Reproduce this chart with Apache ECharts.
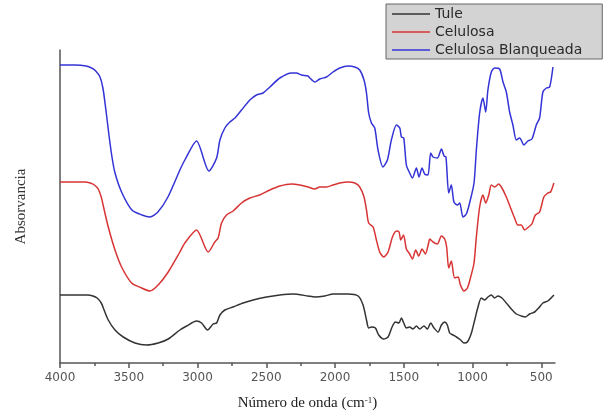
<!DOCTYPE html>
<html>
<head>
<meta charset="utf-8">
<script src="https://cdn.jsdelivr.net/npm/echarts@6/dist/echarts.min.js"></script>
<style>
  html, body { margin: 0; padding: 0; background: #fff; }
  #chart { width: 605px; height: 412px; }
</style>
</head>
<body>
<div id="chart"></div>
<script>
// FTIR spectra: wavenumber (cm-1) and relative absorbance (stacked, arbitrary units)
const tuleWn = [4000, 3800, 3760, 3730, 3700, 3685, 3649, 3600, 3540, 3455, 3370, 3286, 3213, 3128, 3079, 3007, 2970, 2927, 2886, 2861, 2837, 2801, 2741, 2668, 2595, 2498, 2401, 2305, 2196, 2147, 2074, 2014, 1905, 1832, 1796, 1771, 1755, 1735, 1706, 1682, 1646, 1614, 1585, 1561, 1536, 1517, 1500, 1481, 1457, 1433, 1408, 1384, 1353, 1328, 1304, 1280, 1251, 1226, 1202, 1183, 1166, 1142, 1117, 1086, 1062, 1037, 1008, 984, 960, 936, 911, 888, 863, 839, 815, 786, 754, 718, 681, 645, 616, 585, 548, 519, 488, 452, 408];
const tuleAbs = [0.68, 0.68, 0.67, 0.65, 0.60, 0.55, 0.43, 0.33, 0.26, 0.20, 0.18, 0.20, 0.24, 0.33, 0.37, 0.42, 0.40, 0.33, 0.39, 0.40, 0.48, 0.53, 0.56, 0.60, 0.63, 0.66, 0.68, 0.69, 0.67, 0.66, 0.67, 0.69, 0.69, 0.67, 0.58, 0.43, 0.35, 0.36, 0.35, 0.28, 0.24, 0.26, 0.36, 0.41, 0.40, 0.45, 0.40, 0.35, 0.36, 0.34, 0.37, 0.34, 0.37, 0.34, 0.40, 0.35, 0.31, 0.38, 0.41, 0.38, 0.30, 0.28, 0.26, 0.23, 0.20, 0.21, 0.30, 0.43, 0.56, 0.65, 0.63, 0.66, 0.68, 0.65, 0.67, 0.65, 0.60, 0.54, 0.49, 0.47, 0.46, 0.49, 0.51, 0.55, 0.60, 0.62, 0.68];

const celWn = [4000, 3820, 3780, 3750, 3722, 3700, 3685, 3649, 3600, 3552, 3479, 3406, 3346, 3286, 3213, 3128, 3092, 3007, 2922, 2874, 2850, 2825, 2789, 2741, 2680, 2619, 2547, 2474, 2401, 2316, 2256, 2196, 2147, 2111, 2062, 2014, 1965, 1905, 1856, 1820, 1789, 1771, 1755, 1723, 1699, 1675, 1646, 1614, 1582, 1553, 1534, 1522, 1502, 1481, 1457, 1437, 1413, 1391, 1367, 1343, 1319, 1311, 1287, 1255, 1226, 1202, 1188, 1173, 1154, 1130, 1105, 1088, 1062, 1037, 1013, 989, 972, 948, 924, 904, 882, 863, 839, 810, 786, 754, 723, 694, 670, 645, 621, 592, 568, 543, 512, 481, 452, 432, 408];
const celAbs = [1.81, 1.81, 1.80, 1.78, 1.74, 1.66, 1.57, 1.36, 1.13, 0.96, 0.80, 0.75, 0.72, 0.78, 0.91, 1.11, 1.20, 1.33, 1.11, 1.21, 1.25, 1.40, 1.48, 1.52, 1.60, 1.65, 1.68, 1.73, 1.77, 1.79, 1.78, 1.76, 1.74, 1.76, 1.76, 1.78, 1.80, 1.81, 1.80, 1.76, 1.66, 1.53, 1.40, 1.36, 1.23, 1.11, 1.06, 1.11, 1.26, 1.32, 1.31, 1.23, 1.28, 1.14, 1.09, 1.04, 1.13, 1.07, 1.14, 1.09, 1.20, 1.24, 1.21, 1.19, 1.27, 1.24, 1.16, 0.95, 1.02, 0.85, 0.86, 0.78, 0.72, 0.75, 0.86, 1.00, 1.26, 1.56, 1.68, 1.60, 1.68, 1.78, 1.76, 1.79, 1.75, 1.66, 1.55, 1.45, 1.38, 1.38, 1.33, 1.36, 1.39, 1.48, 1.51, 1.66, 1.70, 1.71, 1.80];

const blaWn = [4000, 3891, 3810, 3770, 3740, 3709, 3688, 3666, 3644, 3622, 3600, 3549, 3477, 3404, 3346, 3288, 3215, 3128, 3092, 3007, 2917, 2861, 2837, 2801, 2765, 2728, 2680, 2619, 2571, 2523, 2474, 2401, 2316, 2280, 2244, 2196, 2183, 2147, 2111, 2062, 2014, 1965, 1905, 1856, 1820, 1789, 1771, 1755, 1735, 1711, 1687, 1651, 1619, 1590, 1553, 1529, 1517, 1500, 1481, 1457, 1437, 1408, 1389, 1367, 1348, 1324, 1304, 1287, 1255, 1226, 1207, 1193, 1173, 1154, 1135, 1110, 1093, 1069, 1045, 1021, 989, 972, 948, 924, 904, 888, 863, 839, 803, 778, 754, 730, 706, 681, 657, 626, 597, 568, 536, 512, 488, 463, 439, 415];
const blaAbs = [2.98, 2.98, 2.97, 2.95, 2.92, 2.86, 2.75, 2.53, 2.28, 2.06, 1.90, 1.70, 1.53, 1.48, 1.46, 1.51, 1.66, 1.93, 2.03, 2.22, 1.92, 2.05, 2.23, 2.35, 2.41, 2.45, 2.53, 2.63, 2.68, 2.70, 2.76, 2.85, 2.90, 2.90, 2.88, 2.87, 2.85, 2.81, 2.84, 2.86, 2.91, 2.95, 2.97, 2.96, 2.93, 2.83, 2.70, 2.50, 2.40, 2.35, 2.13, 1.96, 2.03, 2.23, 2.38, 2.35, 2.26, 2.25, 1.98, 1.90, 1.85, 1.95, 1.86, 1.95, 1.89, 1.88, 2.10, 2.06, 2.05, 2.14, 2.07, 2.06, 1.70, 1.78, 1.61, 1.58, 1.60, 1.46, 1.49, 1.60, 1.80, 2.13, 2.50, 2.65, 2.51, 2.73, 2.91, 2.95, 2.94, 2.81, 2.71, 2.51, 2.38, 2.23, 2.25, 2.18, 2.22, 2.24, 2.38, 2.45, 2.71, 2.75, 2.76, 2.96];

const seriesNames = ['Tule', 'Celulosa', 'Celulosa Blanqueada'];
const seriesColors = ['#333333', '#d83434', '#3434d6'];

// Axis tick positions
const majorTicks = [4000, 3500, 3000, 2500, 2000, 1500, 1000, 500];
const minorTicks = [3750, 3250, 2750, 2250, 1750, 1250, 750];

const pair = (xs, ys) => xs.map((x, i) => [x, ys[i]]);
const spectra = [pair(tuleWn, tuleAbs), pair(celWn, celAbs), pair(blaWn, blaAbs)];

const axisGray = '#555555';
const chart = echarts.init(document.getElementById('chart'), null, { renderer: 'canvas' });

chart.setOption({
  backgroundColor: '#ffffff',
  animation: false,
  grid: { left: 60, right: 50, top: 50, bottom: 49, containLabel: false, outerBoundsMode: 'none' },
  legend: {
    orient: 'vertical',
    left: 386,
    top: 4,
    align: 'left',
    icon: 'rect',
    itemWidth: 38,
    itemHeight: 1.6,
    itemGap: 2,
    padding: [2, 20, 1, 6],
    backgroundColor: '#d3d3d3',
    borderColor: '#666666',
    borderWidth: 1,
    borderRadius: 0,
    textStyle: { fontFamily: 'DejaVu Sans', fontSize: 14, color: '#2a2a2a', lineHeight: 16 },
    data: seriesNames
  },
  xAxis: [
    {
      type: 'value',
      inverse: true,
      min: 400,
      max: 4000,
      name: 'Número de onda (cm{sup|-1})',
      nameLocation: 'middle',
      nameGap: 33,
      nameTextStyle: {
        fontFamily: 'Liberation Serif',
        fontSize: 15,
        color: '#222222',
        rich: {
          sup: { fontFamily: 'Liberation Serif', fontSize: 9, color: '#222222', verticalAlign: 'top', lineHeight: 9 }
        }
      },
      axisLine: { show: true, lineStyle: { color: axisGray, width: 1.5 } },
      axisTick: { show: true, inside: false, length: 5, customValues: majorTicks, lineStyle: { color: axisGray, width: 1.5 } },
      axisLabel: {
        customValues: majorTicks,
        margin: 9,
        fontFamily: 'DejaVu Sans',
        fontSize: 12,
        color: '#555555',
        formatter: (v) => String(v)
      },
      splitLine: { show: false }
    },
    {
      type: 'value',
      inverse: true,
      min: 400,
      max: 4000,
      position: 'bottom',
      axisLine: { show: false },
      axisTick: { show: true, inside: false, length: 3, customValues: minorTicks, lineStyle: { color: axisGray, width: 1.5 } },
      axisLabel: { show: false },
      splitLine: { show: false }
    }
  ],
  yAxis: {
    type: 'value',
    min: 0,
    max: 3.13,
    name: 'Absorvancia',
    nameLocation: 'middle',
    nameGap: 31,
    nameTextStyle: { fontFamily: 'Liberation Serif', fontSize: 15, color: '#333333' },
    axisLine: { show: true, lineStyle: { color: axisGray, width: 1.5 } },
    axisTick: { show: false },
    axisLabel: { show: false },
    splitLine: { show: false }
  },
  series: seriesNames.map((name, i) => ({
    name: name,
    type: 'line',
    xAxisIndex: 0,
    data: spectra[i],
    showSymbol: false,
    symbol: 'none',
    smooth: 0.25,
    color: seriesColors[i],
    lineStyle: { color: seriesColors[i], width: 1.5 }
  }))
});
</script>
</body>
</html>
